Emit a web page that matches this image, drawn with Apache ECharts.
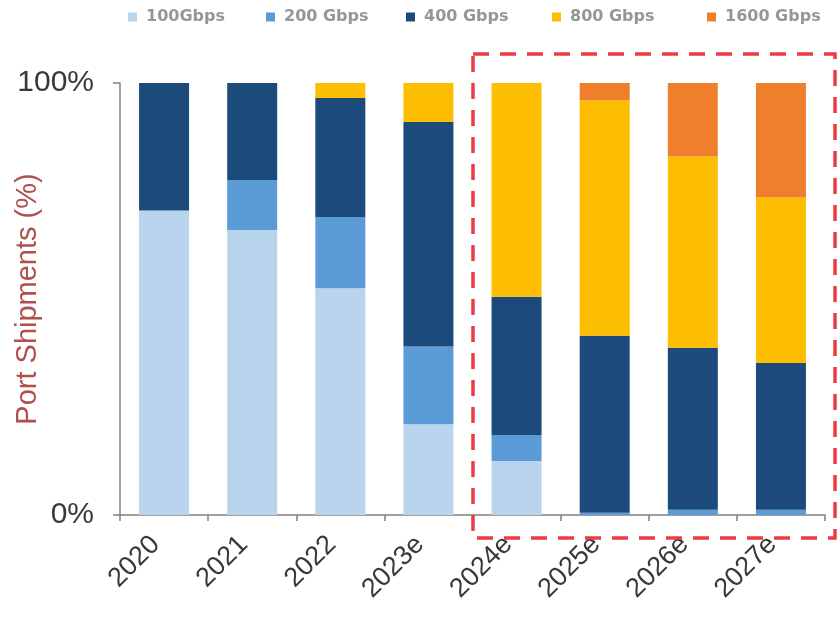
<!DOCTYPE html>
<html>
<head>
<meta charset="utf-8">
<script src="https://cdn.jsdelivr.net/npm/echarts@6/dist/echarts.min.js"></script>
<style>
  html, body { margin: 0; padding: 0; background: #ffffff; }
  #chart { width: 838px; height: 621px; }
</style>
</head>
<body>
<div id="chart"></div>
<script>
// Port shipment mix by speed, share of total (%)
const years = ['2020', '2021', '2022', '2023e', '2024e', '2025e', '2026e', '2027e'];
const seriesNames = ['100Gbps', '200 Gbps', '400 Gbps', '800 Gbps', '1600 Gbps'];
const share100G  = [70.5, 66.0, 52.5, 21.0, 12.5, 0.0, 0.0, 0.0];
const share200G  = [0.0, 11.5, 16.5, 18.0, 6.0, 0.5, 1.2, 1.2];
const share400G  = [29.5, 22.5, 27.5, 52.0, 32.0, 41.0, 37.5, 34.0];
const share800G  = [0.0, 0.0, 3.5, 9.0, 49.5, 54.5, 44.3, 38.3];
const share1600G = [0.0, 0.0, 0.0, 0.0, 0.0, 4.0, 17.0, 26.5];
const yTickLabels = { 0: '0%', 100: '100%' };

const palette = ['#b9d5ed', '#5b9bd8', '#1c4b7b', '#fdbd00', '#f07f2d'];
const seriesData = [share100G, share200G, share400G, share800G, share1600G];

const chart = echarts.init(document.getElementById('chart'), null, { renderer: 'canvas' });

// one legend block per entry so each sits at its own spot along the top
const legendLefts = [123, 261, 401, 547, 702];
const legends = seriesNames.map((name, i) => ({
  show: true,
  data: [name],
  left: legendLefts[i],
  top: 4,
  itemWidth: 9,
  itemHeight: 9,
  itemGap: 0,
  icon: 'rect',
  selectedMode: false,
  textStyle: {
    fontFamily: 'DejaVu Sans',
    fontWeight: 'bold',
    fontSize: 16,
    color: '#969696',
    padding: [0, 0, 0, 4]
  }
}));

const series = seriesNames.map((name, i) => ({
  name: name,
  type: 'bar',
  stack: 'share',
  barWidth: 50,
  itemStyle: { color: palette[i] },
  emphasis: { disabled: true },
  data: seriesData[i]
}));

chart.setOption({
  animation: false,
  backgroundColor: '#ffffff',
  legend: legends,
  grid: {
    left: 120, right: 13, top: 83, bottom: 106,
    containLabel: false,
    outerBoundsMode: 'none'
  },
  xAxis: {
    type: 'category',
    data: years,
    boundaryGap: true,
    axisLine: { lineStyle: { color: '#808080', width: 1.5 } },
    axisTick: { show: true, alignWithLabel: false, length: 6, lineStyle: { color: '#808080', width: 1.5 } },
    axisLabel: {
      rotate: 45,
      margin: 17,
      padding: [0, 12, 0, 0],
      fontFamily: 'Liberation Sans',
      fontSize: 27,
      color: '#383838'
    }
  },
  yAxis: {
    type: 'value',
    min: 0,
    max: 100,
    interval: 100,
    name: 'Port Shipments (%)',
    nameLocation: 'middle',
    nameMoveOverlap: false,
    nameGap: 78,
    nameTextStyle: {
      fontFamily: 'Liberation Sans',
      fontSize: 29,
      color: '#b0504c'
    },
    splitLine: { show: false },
    axisLine: { show: true, lineStyle: { color: '#808080', width: 1.5 } },
    axisTick: { show: true, length: 7, lineStyle: { color: '#808080', width: 1.5 } },
    axisLabel: {
      margin: 26,
      fontFamily: 'Liberation Sans',
      fontSize: 30,
      color: '#383838',
      formatter: v => yTickLabels[v] || ''
    }
  },
  graphic: [{
    type: 'rect',
    z: 100,
    shape: { x: 473, y: 54, width: 362, height: 484 },
    style: {
      fill: 'none',
      stroke: '#ef3a45',
      lineWidth: 3.5,
      lineDash: [16, 11]
    }
  }],
  series: series
});
</script>
</body>
</html>
